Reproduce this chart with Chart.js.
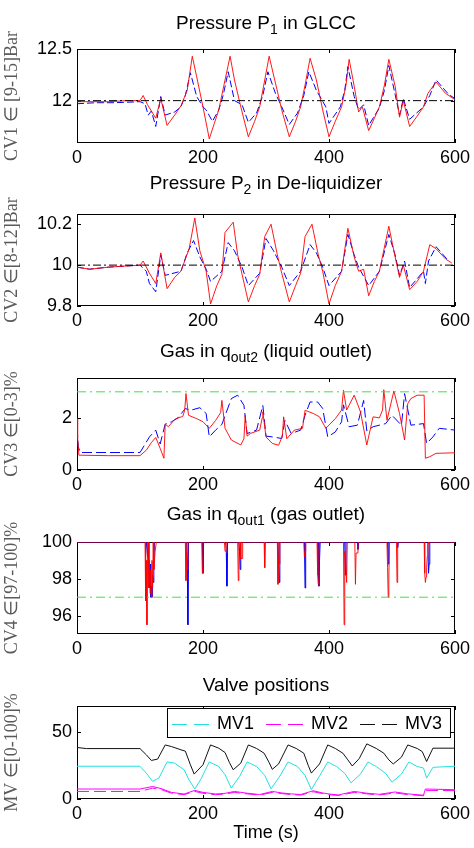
<!DOCTYPE html>
<html lang="en">
<head>
<meta charset="UTF-8">
<title>GLCC control results</title>
<script src="https://cdn.jsdelivr.net/npm/chart.js"></script>
<style>
  html, body { margin: 0; padding: 0; background: #fff; overflow: hidden; }
  #wrap { position: relative; width: 474px; height: 848px; overflow: hidden; }
  #wrap canvas { position: absolute; left: 0; }
</style>
</head>
<body>
<div id="wrap">
  <canvas id="c1"></canvas>
  <canvas id="c2"></canvas>
  <canvas id="c3"></canvas>
  <canvas id="c4"></canvas>
  <canvas id="c5"></canvas>
</div>
<script>
// ---- data ----
const xTicks = [0, 200, 400, 600];
const refT = [0, 600];

// Pressure P1 (GLCC)
const p1Ticks = [12, 12.5];
const p1Ref = [12, 12];
const p1RedT = [0, 20, 50, 80, 100, 105, 112, 125, 133, 143, 155, 165, 175, 183, 190, 200, 210, 218, 225, 235, 243, 250, 260, 272, 282, 290, 298, 305, 315, 325, 337, 347, 355, 362, 370, 380, 390, 400, 410, 420, 427, 432, 440, 447, 453, 463, 472, 480, 488, 495, 505, 512, 518, 528, 540, 550, 557, 570, 585, 600];
const p1Red = [11.99, 11.99, 11.99, 12.0, 12.0, 12.05, 11.96, 11.83, 12.02, 11.76, 11.86, 11.95, 12.1, 12.43, 12.23, 11.94, 11.63, 11.78, 11.91, 12.2, 12.43, 12.2, 11.94, 11.65, 11.8, 11.94, 12.2, 12.43, 12.17, 11.91, 11.65, 11.8, 11.94, 12.15, 12.41, 12.2, 11.91, 11.65, 11.8, 11.94, 12.15, 12.4, 12.14, 11.89, 11.94, 11.71, 11.83, 11.94, 12.15, 12.4, 12.14, 11.84, 12.0, 11.75, 11.85, 11.94, 12.07, 12.18, 12.07, 12.01];
const p1BlueT = [0, 30, 60, 100, 108, 113, 118, 125, 133, 140, 155, 165, 172, 180, 190, 200, 205, 215, 225, 232, 240, 250, 262, 272, 285, 295, 303, 315, 325, 337, 350, 360, 368, 380, 395, 400, 418, 425, 430, 440, 447, 455, 463, 480, 488, 495, 505, 512, 518, 528, 550, 560, 570, 590, 600];
const p1Blue = [11.97, 11.98, 11.98, 11.99, 11.97, 11.86, 11.9, 11.75, 12.04, 11.86, 11.89, 11.94, 12.05, 12.27, 12.04, 11.94, 11.91, 11.8, 11.91, 12.05, 12.28, 12.0, 11.96, 11.79, 11.88, 12.05, 12.28, 12.07, 11.94, 11.77, 11.88, 12.05, 12.28, 12.1, 11.94, 11.78, 11.94, 12.1, 12.33, 12.04, 11.91, 11.96, 11.76, 11.93, 12.1, 12.34, 12.06, 11.86, 12.02, 11.82, 11.94, 12.05, 12.2, 12.06, 12.02];

// Pressure P2 (de-liquidizer)
const p2Ticks = [9.8, 10, 10.2];
const p2Ref = [10, 10];
const p2RedT = [0, 20, 50, 100, 105, 115, 125, 133, 143, 155, 165, 178, 187, 195, 205, 212, 222, 230, 235, 248, 255, 262, 272, 282, 290, 298, 308, 318, 325, 337, 347, 355, 362, 373, 383, 390, 400, 410, 420, 430, 440, 447, 455, 463, 472, 480, 495, 505, 512, 518, 528, 540, 550, 560, 570, 585, 595];
const p2Red = [9.99, 9.98, 9.99, 10.0, 10.02, 9.96, 9.91, 10.06, 9.885, 9.94, 9.97, 10.08, 10.23, 10.07, 9.97, 9.81, 9.9, 9.955, 10.16, 10.21, 10.05, 9.955, 9.82, 9.9, 9.955, 10.14, 10.2, 10.05, 9.96, 9.82, 9.9, 9.96, 10.14, 10.2, 10.05, 9.97, 9.81, 9.9, 9.97, 10.18, 10.04, 9.97, 9.98, 9.85, 9.92, 9.97, 10.19, 10.04, 9.94, 10.0, 9.88, 9.92, 9.97, 10.1, 10.08, 10.03, 10.01];
const p2BlueT = [0, 20, 50, 100, 110, 115, 125, 133, 140, 165, 175, 185, 195, 205, 212, 230, 240, 250, 262, 272, 290, 300, 312, 325, 337, 355, 370, 380, 390, 400, 420, 430, 440, 447, 463, 480, 495, 505, 512, 520, 528, 550, 553, 558, 570, 590];
const p2Blue = [9.99, 9.98, 9.99, 10.0, 9.97, 9.91, 9.87, 10.05, 9.95, 9.97, 10.06, 10.12, 10.04, 9.98, 9.92, 9.97, 10.11, 10.07, 9.99, 9.9, 9.96, 10.13, 10.07, 9.99, 9.9, 9.97, 10.1, 10.06, 9.99, 9.9, 9.97, 10.15, 10.05, 9.99, 9.9, 9.97, 10.15, 10.05, 9.95, 10.02, 9.89, 9.97, 9.91, 10.02, 10.09, 10.02];

// Gas in q_out2 (liquid outlet)
const p3Ticks = [0, 2];
const p3Limit = [3, 3];
const p3RedT = [0, 1, 3, 50, 100, 110, 118, 125, 132, 138, 140, 145, 155, 168, 171, 173, 177, 190, 200, 210, 220, 228, 230, 235, 245, 260, 265, 267, 270, 275, 290, 294, 295, 300, 310, 320, 326, 328, 333, 345, 358, 362, 375, 385, 395, 410, 420, 423, 428, 440, 450, 460, 470, 480, 485, 487, 492, 503, 512, 520, 525, 530, 540, 551, 553, 560, 570, 600];
const p3Red = [1.97, 1.2, 0.57, 0.55, 0.55, 0.76, 1.05, 1.25, 0.83, 0.45, 1.76, 1.66, 1.94, 2.06, 2.3, 2.93, 2.1, 1.97, 1.85, 1.6, 1.9, 2.2, 2.67, 1.6, 1.15, 0.96, 1.2, 2.1, 1.3, 1.4, 1.53, 2.0, 2.23, 1.27, 1.02, 0.95, 1.3, 2.04, 1.2, 1.53, 1.6, 2.29, 2.17, 2.04, 1.6, 1.97, 2.3, 3.06, 2.3, 2.87, 2.23, 0.96, 2.04, 2.0, 2.3, 3.08, 1.91, 3.03, 2.17, 1.15, 2.55, 2.74, 2.87, 2.87, 0.45, 0.51, 0.64, 0.66];
const p3BlueT = [0, 2, 5, 50, 100, 115, 125, 132, 140, 150, 160, 172, 180, 195, 205, 210, 220, 230, 245, 255, 265, 270, 285, 295, 300, 310, 325, 330, 340, 355, 362, 370, 382, 390, 398, 410, 420, 423, 432, 445, 455, 460, 470, 490, 500, 515, 520, 530, 550, 555, 565, 575, 600];
const p3Blue = [1.66, 0.9, 0.67, 0.67, 0.67, 1.27, 1.53, 1.0, 1.76, 1.85, 2.0, 2.36, 2.29, 2.39, 2.17, 1.27, 1.53, 1.75, 2.74, 2.87, 2.48, 1.4, 1.53, 2.48, 1.3, 1.27, 1.21, 1.9, 1.4, 1.53, 2.1, 2.61, 2.61, 2.36, 1.27, 1.46, 1.85, 2.5, 1.66, 1.72, 2.67, 1.5, 1.66, 1.78, 2.1, 1.72, 2.93, 1.72, 1.78, 1.02, 1.27, 1.6, 1.53];

// Gas in q_out1 (gas outlet)
const p4Ticks = [96, 98, 100];
const p4Limit = [97, 97];
const p4RedT = [0, 108, 109, 110, 111, 112, 113, 114, 115, 116, 117, 118, 119, 120, 121, 122, 124, 126, 172, 173, 174, 175, 176, 198, 199, 200, 234, 235, 237, 238, 255, 256, 257, 259, 260, 262, 263, 297, 298, 299, 318, 319, 320, 321, 322, 360, 361, 362, 363, 381, 382, 383, 384, 385, 423, 424, 425, 427, 428, 429, 441, 442, 443, 445, 446, 492, 493, 494, 495, 496, 507, 508, 509, 551, 552, 553, 554, 555, 556, 557, 558, 600];
const p4Red = [100, 100, 96.8, 99, 95.5, 99.2, 100, 97.5, 99, 97.2, 98.5, 97.0, 99, 97.5, 100, 98.5, 99.5, 100, 100, 97.9, 99.5, 98.5, 100, 100, 98.3, 100, 100, 99.5, 99.5, 100, 100, 97.9, 100, 100, 99.1, 99.1, 100, 100, 98.6, 100, 100, 97.7, 99.2, 98.8, 100, 100, 99.2, 99.5, 100, 100, 98.2, 97.7, 99.5, 100, 100, 95.5, 99.5, 98.5, 97.8, 100, 100, 97.7, 99.4, 99.4, 100, 100, 98.6, 97.0, 98.0, 100, 100, 97.8, 100, 100, 98.3, 97.8, 98.1, 98.6, 99.2, 99.8, 100, 100];
const p4BlueT = [0, 110, 112, 113, 114, 115, 116, 117, 118, 119, 120, 121, 122, 123, 174, 175, 176, 177, 199, 200, 201, 236, 237, 238, 239, 257, 258, 259, 260, 319, 320, 321, 322, 361, 362, 363, 383, 384, 385, 386, 425, 426, 427, 445, 446, 447, 493, 494, 495, 508, 509, 510, 557, 558, 559, 560, 600];
const p4Blue = [100, 100, 99.2, 100, 98.5, 97.5, 98.8, 97.0, 97.6, 97.0, 98.2, 97.8, 99, 100, 100, 99, 95.5, 100, 100, 98.3, 100, 100, 99.4, 97.6, 100, 100, 99.5, 98.5, 100, 100, 98.8, 97.8, 100, 100, 97.5, 100, 100, 97.6, 99, 100, 100, 98.2, 100, 100, 99.6, 100, 100, 98.8, 100, 100, 99.7, 100, 100, 98.3, 98.8, 100, 100];

// Valve positions
const p5Ticks = [0, 50];
const mvLabels = ['MV1', 'MV2', 'MV3'];
const mv1T = [0, 100, 110, 120, 130, 143, 155, 170, 178, 187, 197, 210, 225, 235, 245, 258, 270, 285, 298, 308, 322, 335, 350, 362, 372, 385, 398, 412, 425, 435, 450, 462, 475, 490, 500, 515, 527, 540, 550, 555, 565, 600];
const mv1 = [24.3, 24.3, 19.2, 13.1, 15.5, 27.5, 26.6, 21.7, 14, 7.4, 15, 27.5, 24.1, 18, 8.1, 16.7, 27.5, 24.1, 17.5, 7.6, 17, 27.5, 24.1, 17.5, 7.0, 17, 27.5, 24.1, 19, 12, 18.5, 27.5, 24.1, 19, 12.5, 18.5, 27.5, 24.1, 23, 15.5, 23.5, 24.3];
const mv2T = [0, 100, 120, 135, 150, 170, 187, 200, 220, 235, 250, 270, 290, 310, 325, 340, 355, 375, 390, 400, 415, 440, 460, 480, 505, 525, 550, 553, 600];
const mv2 = [5.6, 5.6, 8.1, 6.8, 4.3, 3.2, 5.6, 4.3, 3.2, 3.7, 4.9, 3.8, 2.9, 4.9, 4.0, 3.3, 2.9, 5.4, 4.0, 3.2, 2.6, 4.9, 3.8, 3.0, 4.5, 3.3, 2.4, 6.4, 6.2];
const mv2Alt = [7.4, 7.4, 9.3, 7.5, 4.9, 3.7, 6.4, 4.9, 3.7, 4.2, 5.6, 4.3, 3.3, 5.6, 4.5, 3.8, 3.3, 6.1, 4.5, 3.7, 3.0, 5.6, 4.3, 3.5, 5.2, 3.8, 2.8, 7.4, 6.9];
const mv3T = [0, 15, 100, 110, 118, 128, 140, 150, 165, 172, 180, 186, 200, 212, 225, 235, 242, 248, 260, 272, 285, 297, 305, 310, 320, 335, 348, 360, 367, 372, 385, 398, 410, 422, 430, 437, 448, 460, 475, 487, 495, 502, 515, 525, 540, 548, 555, 565, 600];
const mv3 = [38.2, 37.4, 37.4, 32.8, 28.6, 29.6, 40.1, 38.9, 36.5, 35.5, 25.4, 18.5, 25.4, 40.1, 37.7, 34.5, 27, 21.7, 26.6, 40.1, 37.5, 34, 27, 22, 26, 40.1, 37.5, 34, 25, 19.2, 26, 40.1, 37.5, 34, 29, 24.5, 30, 40.9, 37.5, 34, 29, 26, 31, 40.1, 37.5, 35.2, 27.8, 37.7, 37.7];

// ---- helpers ----
const SANS = '"Liberation Sans", Arial, sans-serif';
Chart.defaults.font.family = SANS;
Chart.defaults.color = '#000';
Chart.defaults.animation = false;

const pts = (t, v) => t.map((x, i) => ({ x: x, y: v[i] }));
const line = (label, t, v, color, dash) => ({
  label: label, data: pts(t, v), borderColor: color, borderWidth: 1,
  borderDash: dash || [], pointRadius: 0, tension: 0, fill: false
});

// frame, inward ticks, title with subscript, legend box
const deco = {
  id: 'deco',
  beforeDatasetsDraw(chart, args, opts) {
    const { ctx, chartArea: a, scales } = chart;
    ctx.save();
    ctx.strokeStyle = '#000';
    ctx.lineWidth = 1;
    ctx.strokeRect(a.left + 0.5, a.top + 0.5, a.right - a.left - 1, a.bottom - a.top - 1);
    ctx.beginPath();
    scales.x.ticks.forEach(t => {
      const px = Math.round(scales.x.getPixelForValue(t.value)) + 0.5;
      ctx.moveTo(px, a.bottom); ctx.lineTo(px, a.bottom - 4);
      ctx.moveTo(px, a.top); ctx.lineTo(px, a.top + 4);
    });
    scales.y.ticks.forEach(t => {
      const py = Math.round(scales.y.getPixelForValue(t.value)) + 0.5;
      ctx.moveTo(a.left, py); ctx.lineTo(a.left + 4, py);
      ctx.moveTo(a.right, py); ctx.lineTo(a.right - 4, py);
    });
    ctx.stroke();

    // title, drawn piece by piece so subscripts can drop
    const mainFont = '19px ' + SANS, subFont = '14px ' + SANS;
    let w = 0;
    opts.title.forEach(p => { ctx.font = p[1] ? subFont : mainFont; w += ctx.measureText(p[0]).width; });
    let x = (a.left + a.right) / 2 - w / 2;
    const base = a.top - opts.gap;
    ctx.fillStyle = '#000';
    ctx.textBaseline = 'alphabetic';
    ctx.textAlign = 'left';
    opts.title.forEach(p => {
      ctx.font = p[1] ? subFont : mainFont;
      ctx.fillText(p[0], x, base + (p[1] ? 5 : 0));
      x += ctx.measureText(p[0]).width;
    });
    ctx.restore();
  },
  afterDatasetsDraw(chart, args, opts) {
    if (!opts.legend) return;
    const { ctx, chartArea: a } = chart;
    const items = chart.data.datasets.filter(d => mvLabels.includes(d.label));
    const bw = 284, bh = 30;
    const bx = a.right - 4 - bw, by = a.top + 2;
    ctx.save();
    ctx.fillStyle = '#fff';
    ctx.fillRect(bx, by, bw, bh);
    ctx.strokeStyle = '#000';
    ctx.lineWidth = 1;
    ctx.strokeRect(bx + 0.5, by + 0.5, bw - 1, bh - 1);
    ctx.font = '18px ' + SANS;
    ctx.textBaseline = 'middle';
    ctx.textAlign = 'left';
    const cy = by + bh / 2 + 0.5;
    items.forEach((d, i) => {
      const lx = bx + 5 + i * 94;
      ctx.strokeStyle = d.borderColor;
      ctx.setLineDash([15, 7]);
      ctx.beginPath();
      ctx.moveTo(lx, Math.round(cy) + 0.5);
      ctx.lineTo(lx + 40, Math.round(cy) + 0.5);
      ctx.stroke();
      ctx.setLineDash([]);
      ctx.fillStyle = '#000';
      ctx.fillText(d.label, lx + 45, cy + 1);
    });
    ctx.restore();
  }
};

function makePanel(cfg) {
  const padTop = 42;
  const canvas = document.getElementById(cfg.id);
  canvas.width = 474;
  canvas.height = padTop + cfg.plotH + cfg.bottomH;
  canvas.style.top = (cfg.plotTop - padTop) + 'px';
  return new Chart(canvas, {
    type: 'line',
    data: { datasets: cfg.datasets },
    options: {
      responsive: false,
      devicePixelRatio: 1,
      layout: { padding: { top: padTop, right: 18, left: 0, bottom: 0 } },
      plugins: {
        legend: { display: false },
        tooltip: { enabled: false },
        deco: { title: cfg.title, gap: cfg.gap, legend: cfg.legend || false }
      },
      scales: {
        x: {
          type: 'linear', min: 0, max: 600,
          grid: { display: false, drawTicks: false }, border: { display: false },
          ticks: { font: { size: 18 }, padding: 4, maxRotation: 0, autoSkip: false, callback: v => String(v) },
          afterBuildTicks: s => { s.ticks = xTicks.map(v => ({ value: v })); },
          afterFit: s => { s.height = cfg.bottomH; },
          title: cfg.xTitle
            ? { display: true, text: cfg.xTitle, font: { size: 18 }, padding: { top: 0, bottom: 3 } }
            : { display: false }
        },
        y: {
          min: cfg.yMin, max: cfg.yMax,
          grid: { display: false, drawTicks: false }, border: { display: false },
          ticks: { font: { size: 18 }, padding: 5, callback: v => String(v) },
          afterBuildTicks: s => { s.ticks = cfg.yTicks.map(v => ({ value: v })); },
          afterFit: s => { s.width = 77; },
          title: {
            display: true, text: cfg.yTitle, color: '#5a5a5a',
            font: { family: '"Liberation Serif", "Times New Roman", serif', size: 18 },
            padding: { top: 1, bottom: 0 }
          }
        }
      }
    },
    plugins: [deco]
  });
}

const RED = 'rgba(255,0,0,0.9)', BLUE = '#0000ff';
const DASH = [7, 3], DASHDOT = [8, 3, 2, 3], GREEN = '#44e044';

makePanel({
  id: 'c1', plotTop: 49, plotH: 94, bottomH: 30, gap: 20,
  title: [['Pressure P', 0], ['1', 1], [' in GLCC', 0]],
  yTitle: 'CV1 \u2208 [9-15]Bar', yMin: 11.59, yMax: 12.5, yTicks: p1Ticks,
  datasets: [
    line('set', refT, p1Ref, '#000', DASHDOT),
    line('red', p1RedT, p1Red, RED),
    line('blue', p1BlueT, p1Blue, BLUE, DASH)
  ]
});

makePanel({
  id: 'c2', plotTop: 214, plotH: 92, bottomH: 30, gap: 25,
  title: [['Pressure P', 0], ['2', 1], [' in De-liquidizer', 0]],
  yTitle: 'CV2 \u2208[8-12]Bar', yMin: 9.8, yMax: 10.25, yTicks: p2Ticks,
  datasets: [
    line('set', refT, p2Ref, '#000', DASHDOT),
    line('red', p2RedT, p2Red, RED),
    line('blue', p2BlueT, p2Blue, BLUE, DASH)
  ]
});

makePanel({
  id: 'c3', plotTop: 378, plotH: 92, bottomH: 30, gap: 21,
  title: [['Gas in q', 0], ['out2', 1], [' (liquid outlet)', 0]],
  yTitle: 'CV3 \u2208[0-3]%', yMin: 0, yMax: 3.53, yTicks: p3Ticks,
  datasets: [
    line('limit', refT, p3Limit, GREEN, [9, 4, 2, 4]),
    line('red', p3RedT, p3Red, RED),
    line('blue', p3BlueT, p3Blue, BLUE, [10, 4])
  ]
});

makePanel({
  id: 'c4', plotTop: 542, plotH: 92, bottomH: 30, gap: 22,
  title: [['Gas in q', 0], ['out1', 1], [' (gas outlet)', 0]],
  yTitle: 'CV4 \u2208[97-100]%', yMin: 95, yMax: 100, yTicks: p4Ticks,
  datasets: [
    line('limit', refT, p4Limit, GREEN, [9, 4, 2, 4]),
    line('red', p4RedT, p4Red, RED),
    line('blue', p4BlueT, p4Blue, BLUE)
  ]
});

makePanel({
  id: 'c5', plotTop: 706, plotH: 93, bottomH: 48, gap: 15, legend: true,
  title: [['Valve positions', 0]], xTitle: 'Time (s)',
  yTitle: 'MV \u2208[0-100]%', yMin: 0, yMax: 69, yTicks: p5Ticks,
  datasets: [
    line('MV1', mv1T, mv1, '#22e0e0'),
    line('MV2', mv2T, mv2, '#ff00ff', [12, 5]),
    line('MV3', mv3T, mv3, '#111'),
    line('', mv2T, mv2Alt, '#ff00ff')
  ]
});
</script>
</body>
</html>
